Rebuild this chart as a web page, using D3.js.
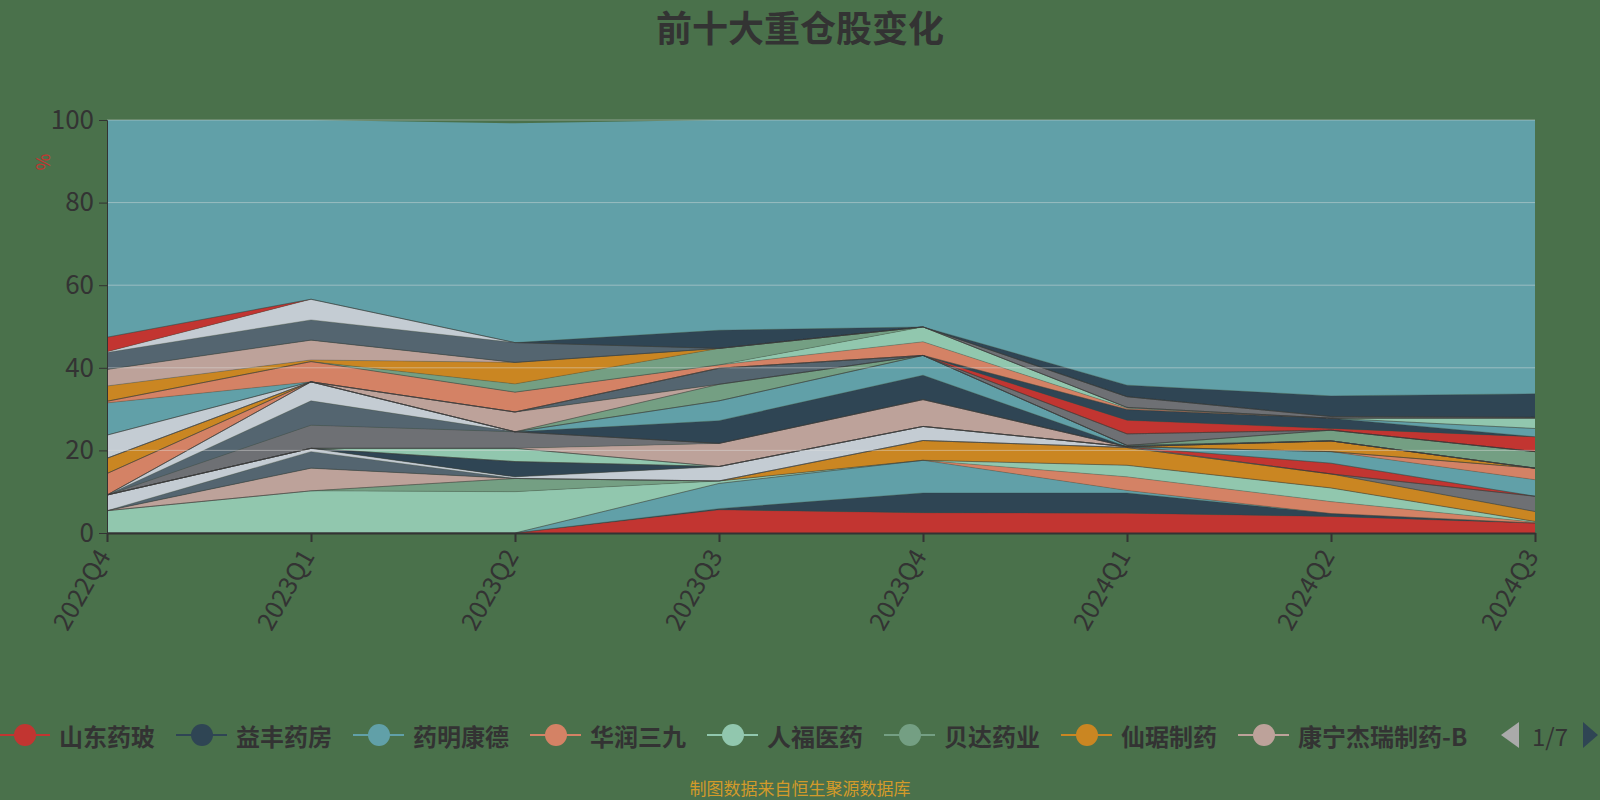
<!DOCTYPE html>
<html>
<head>
<meta charset="utf-8">
<script src="https://cdn.jsdelivr.net/npm/d3@7"></script>
<style>
  body { margin: 0; background: #4a714b; }
  svg { display: block; font-family: "Noto Sans CJK SC", "Noto Sans", sans-serif; }
</style>
</head>
<body>
<div id="chart"></div>
<script>
// quarters on the x axis
const quarters = ['2022Q4', '2023Q1', '2023Q2', '2023Q3', '2023Q4', '2024Q1', '2024Q2', '2024Q3'];
const yTicks = [0, 20, 40, 60, 80, 100];

// holding weight (%) of each stock per quarter, bottom of the stack first
const shandongYaobo  = [0, 0, 0, 5.6, 4.9, 4.8, 4.0, 2.4];
const yifengYaofang  = [0, 0, 0, 0.3, 4.8, 4.9, 0.7, 0];
const yaomingKangde  = [0, 0, 0, 6.1, 7.9, 0.6, 0, 0];
const huarunSanjiu   = [0, 0, 0, 0, 0, 3.3, 2.9, 0.2];
const renfuYiyao     = [5.4, 10.2, 10.0, 0.6, 0, 2.8, 3.3, 0.2];
const beidaYaoye     = [0, 0, 3.2, 0, 0, 0, 0, 0];
const xianjuZhiyao   = [0, 0, 0, 0, 4.8, 4.3, 3.4, 2.4];
const kangningJierui = [0, 5.5, 0, 0, 0, 0, 0, 0];
const stock08 = [0, 0, 0, 0, 0, 0, 0, 3.7];
const stock09 = [0, 4.0, 0, 0, 0, 0, 0, 0];
const stock10 = [3.8, 0.8, 0.4, 3.5, 3.4, 0.2, 0, 0];
const stock11 = [0, 0, 0, 0, 0, 0, 2.6, 0];
const stock12 = [0, 0, 3.7, 0, 0, 0, 0, 0];
const stock13 = [0, 0, 0, 0, 0, 0, 2.8, 4.0];
const stock14 = [0, 0, 0, 0, 0, 0, 0, 2.8];
const stock15 = [0, 0, 3.2, 0, 0, 0, 0, 0];
const stock16 = [0, 0, 0, 0, 0, 0, 0, 0];
const stock17 = [0, 0, 0, 0, 0, 0, 2.6, 0];
const stock18 = [0, 0, 0, 5.6, 6.5, 0, 0, 0];
const stock19 = [0, 5.6, 4.0, 0, 0, 0, 0, 0];
const stock20 = [0, 5.9, 0, 0, 0, 0, 0, 0];
const stock21 = [0, 4.6, 0, 0, 0, 0, 0, 0];
const stock22 = [0, 0, 0, 0, 0, 0, 0, 0];
const stock23 = [0, 0, 0, 5.5, 5.9, 0, 0, 0];
const stock24 = [0, 0, 0, 4.8, 4.8, 0.3, 0, 0];
const stock25 = [5.2, 0, 0, 0, 0, 0, 0, 0];
const stock26 = [0, 0, 0, 0, 0, 0, 0, 0];
const stock27 = [0, 0, 0, 4.0, 0, 0, 2.6, 4.0];
const stock28 = [3.7, 0, 0, 0, 0, 0, 0, 0];
const stock29 = [0, 0, 4.8, 0, 0, 0, 0, 0];
const stock30 = [0, 0, 0, 0, 0, 2.8, 0, 0];
const stock31 = [0, 0, 0, 3.9, 0, 0, 0, 0];
const stock32 = [5.6, 0, 0, 0, 0, 0, 0, 0];
const stock33 = [0, 0, 0, 0, 0, 3.3, 0.4, 3.6];
const stock34 = [0, 0, 0, 0, 0, 2.6, 2.5, 0];
const stock35 = [7.8, 0, 0, 0, 0, 0, 0, 2.0];
const stock36 = [0.4, 4.9, 4.8, 0.8, 3.3, 0.3, 0, 0];
const stock37 = [0, 0, 0, 0, 3.6, 0.2, 0, 2.5];
const stock38 = [0, 0, 2.0, 4.0, 0, 0, 0, 0];
const stock39 = [3.7, 0.4, 5.2, 0, 0, 0, 0, 0];
const stock40 = [4.0, 4.8, 0, 0, 0, 0, 0, 0];
const stock41 = [0, 0, 0, 0, 0, 2.6, 0.4, 0.2];
const stock42 = [4.1, 4.9, 4.8, 0, 0, 0, 0, 0];
const stock43 = [0.2, 5.0, 0, 0, 0, 0, 0, 0];
const stock44 = [3.5, 0, 0, 0, 0, 0, 0, 0];
const stock45 = [0, 0, 0, 4.4, 0, 2.8, 5.0, 5.7];
const stock46 = [52.6, 43.4, 53.1, 50.9, 50.1, 64.2, 66.8, 66.3];

const seriesValues = [
  shandongYaobo, yifengYaofang, yaomingKangde, huarunSanjiu, renfuYiyao, beidaYaoye, xianjuZhiyao, kangningJierui,
  stock08, stock09, stock10, stock11, stock12, stock13, stock14, stock15, stock16, stock17, stock18, stock19,
  stock20, stock21, stock22, stock23, stock24, stock25, stock26, stock27, stock28, stock29, stock30, stock31,
  stock32, stock33, stock34, stock35, stock36, stock37, stock38, stock39, stock40, stock41, stock42, stock43,
  stock44, stock45, stock46
];
const legendNames = ['山东药玻', '益丰药房', '药明康德', '华润三九', '人福医药', '贝达药业', '仙琚制药', '康宁杰瑞制药-B'];
const stockNames = legendNames.concat(d3.range(8, seriesValues.length).map(i => '股票' + i));

const palette = ['#c23531', '#2f4554', '#61a0a8', '#d48265', '#91c7ae', '#749f83',
                 '#ca8622', '#bda29a', '#6e7074', '#546570', '#c4ccd3'];

const W = 1600, H = 800;
const plot = { left: 107, right: 1535, top: 120, bottom: 533 };
const textColor = '#333';

const svg = d3.select('#chart').append('svg').attr('width', W).attr('height', H);
svg.append('rect').attr('width', W).attr('height', H).attr('fill', '#4a714b');

// title
svg.append('text')
  .attr('x', 800).attr('y', 26)
  .attr('text-anchor', 'middle').attr('dominant-baseline', 'central')
  .attr('fill', textColor).style('font-size', '36px').style('font-weight', 'bold')
  .text('前十大重仓股变化');

const x = d3.scalePoint().domain(quarters).range([plot.left, plot.right]);
const y = d3.scaleLinear().domain([0, 100]).range([plot.bottom, plot.top]);

// build the table for d3.stack
const keys = stockNames.map((n, i) => 'k' + i);
const table = quarters.map((q, qi) => {
  const row = { quarter: q };
  seriesValues.forEach((s, i) => { row['k' + i] = s[qi]; });
  return row;
});
const stacked = d3.stack().keys(keys)(table);

const area = d3.area()
  .x(d => x(d.data.quarter))
  .y0(d => y(d[0]))
  .y1(d => y(d[1]));
const edge = d3.line()
  .x(d => x(d.data.quarter))
  .y(d => y(d[1]));

const plot_g = svg.append('g').classed('plot', true);
plot_g.selectAll('path.area').data(stacked).join('path')
  .attr('class', 'area')
  .attr('d', area)
  .attr('fill', (d, i) => palette[i % palette.length]);
plot_g.selectAll('path.edge').data(stacked.slice(0, -1)).join('path')
  .attr('class', 'edge')
  .attr('d', edge)
  .attr('fill', 'none')
  .attr('stroke', 'rgba(60,60,60,0.3)')
  .attr('stroke-width', 1);

// split lines drawn over the areas
plot_g.selectAll('line.grid').data(yTicks.slice(1)).join('line')
  .attr('class', 'grid')
  .attr('x1', plot.left).attr('x2', plot.right)
  .attr('y1', d => y(d)).attr('y2', d => y(d))
  .attr('stroke', 'rgba(225,225,225,0.45)')
  .attr('stroke-width', 1);

// y axis
const yAxis = svg.append('g')
  .attr('transform', `translate(${plot.left},0)`)
  .call(d3.axisLeft(y).tickValues(yTicks).tickSize(8).tickPadding(5));
yAxis.attr('font-size', null).attr('font-family', null);
yAxis.select('.domain').attr('stroke', textColor);
yAxis.selectAll('.tick line').attr('stroke', textColor);
yAxis.selectAll('.tick text').attr('fill', textColor).style('font-size', '26px');

// y axis name
svg.append('text')
  .attr('transform', 'translate(44,162) rotate(90)')
  .attr('text-anchor', 'middle').attr('dominant-baseline', 'central')
  .attr('fill', '#c23531').style('font-size', '18px')
  .text('%');

// x axis
const xAxis = svg.append('g')
  .attr('transform', `translate(0,${plot.bottom})`)
  .call(d3.axisBottom(x).tickSize(9).tickSizeOuter(0));
xAxis.attr('font-size', null).attr('font-family', null);
xAxis.select('.domain').attr('stroke', textColor).attr('stroke-width', 2);
xAxis.selectAll('.tick line').attr('stroke', textColor).attr('stroke-width', 2);
xAxis.selectAll('.tick text')
  .attr('x', 0).attr('y', 0).attr('dy', 0)
  .attr('text-anchor', 'end')
  .attr('transform', 'translate(4,23) rotate(-60)')
  .attr('fill', textColor).style('font-size', '25px');

// legend (page 1 of 7)
const legendY = 735;
const legend = svg.append('g').classed('legend', true);
let lx = -1;
legendNames.forEach((name, i) => {
  const item = legend.append('g');
  item.append('line')
    .attr('x1', lx).attr('x2', lx + 51)
    .attr('y1', legendY).attr('y2', legendY)
    .attr('stroke', palette[i]).attr('stroke-width', 2);
  item.append('circle')
    .attr('cx', lx + 26).attr('cy', legendY).attr('r', 11)
    .attr('fill', palette[i]);
  const t = item.append('text')
    .attr('x', lx + 60).attr('y', legendY)
    .attr('dominant-baseline', 'central')
    .attr('fill', textColor).style('font-size', '24px').style('font-weight', 'bold')
    .text(name);
  lx += 60 + t.node().getComputedTextLength() + 21;
});

// pager
legend.append('path')
  .attr('d', 'M1501,735 L1519,722 L1519,748 Z')
  .attr('fill', '#aaaaaa');
legend.append('text')
  .attr('x', 1532).attr('y', legendY)
  .attr('dominant-baseline', 'central')
  .attr('fill', textColor).style('font-size', '24px')
  .text('1/7');
legend.append('path')
  .attr('d', 'M1583,722 L1598,735 L1583,748 Z')
  .attr('fill', '#2f4554');

// source note
svg.append('text')
  .attr('x', 800).attr('y', 787)
  .attr('text-anchor', 'middle').attr('dominant-baseline', 'central')
  .attr('fill', '#d39a2a').style('font-size', '17px')
  .text('制图数据来自恒生聚源数据库');
</script>
</body>
</html>
